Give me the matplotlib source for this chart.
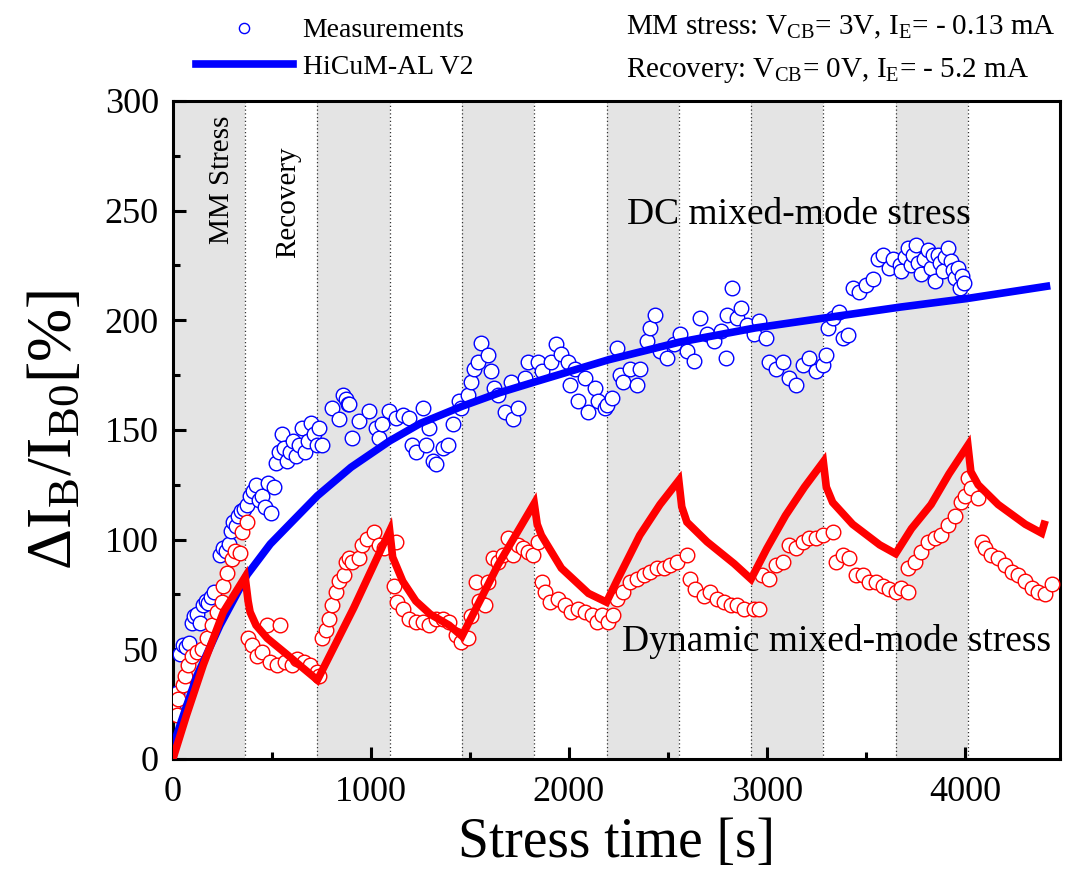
import matplotlib
matplotlib.use('Agg')
import matplotlib.pyplot as plt
from matplotlib.ticker import MultipleLocator

plt.rcParams['font.family'] = ['Liberation Serif', 'DejaVu Serif']
plt.rcParams['mathtext.fontset'] = 'custom'
plt.rcParams['mathtext.rm'] = 'Liberation Serif'
plt.rcParams['mathtext.it'] = 'Liberation Serif:italic'

# stress / recovery cycles [s]
stress_start = [0, 730, 1460, 2190, 2920, 3650]
stress_end = [365, 1095, 1825, 2555, 3285, 4015]
phase_edges = [365, 730, 1095, 1460, 1825, 2190, 2555, 2920, 3285, 3650, 4015]

# DC mixed-mode stress, measured
dc_t = [8, 20, 35, 50, 65, 80, 95, 105, 120, 135, 150, 165, 180, 195, 210,
        240, 255, 270, 285, 295, 305, 318, 330, 345, 360,
        375, 390, 405, 420, 435, 450, 465, 480, 495, 510, 520, 535, 550, 562,
        578, 592, 607, 622, 637, 652, 667, 682, 700, 715, 729,
        737, 754, 805, 839, 857, 872, 882, 889, 906, 940, 991, 1024, 1041,
        1058, 1092, 1126, 1160, 1193, 1210, 1227, 1261, 1278, 1295, 1312,
        1328, 1362, 1388, 1413, 1447,
        1455, 1489, 1506, 1523, 1540, 1557, 1591, 1608, 1624, 1641, 1675,
        1709, 1717, 1743, 1777, 1794, 1845, 1862, 1912, 1937, 1962, 1996,
        2005, 2030, 2047, 2081, 2098, 2132, 2149, 2183,
        2191, 2216, 2242, 2258, 2275, 2309, 2343, 2360, 2394, 2411, 2436,
        2461, 2495, 2529, 2563, 2597, 2630, 2664, 2698, 2732, 2766, 2791,
        2800, 2825, 2850, 2867, 2901, 2935,
        2960, 2994, 3011, 3045, 3079, 3112, 3146, 3180, 3214, 3248, 3281,
        3298, 3307, 3332, 3366, 3383, 3408, 3434, 3467, 3501, 3535, 3560,
        3586, 3619, 3636, 3670,
        3678, 3695, 3712, 3729, 3740, 3754, 3765, 3779, 3795, 3813, 3830,
        3840, 3847, 3864, 3875, 3889, 3900, 3914, 3931, 3940, 3948, 3965,
        3974, 3985, 3995]
dc_y = [22, 30, 48, 52, 51, 53, 62, 65, 66, 62, 70, 72, 71, 74, 76,
        93, 96, 95, 98, 104, 108, 106, 111, 113, 114,
        116, 120, 122, 125, 118, 120, 115, 126, 112, 124, 135, 140, 148, 142,
        136, 140, 145, 138, 143, 151, 140, 145, 153, 148, 143,
        151, 143, 160, 155, 166, 164, 162, 162, 146.5, 154, 158.5, 151, 146.5,
        152.5, 158.5, 155.5, 157, 155.5, 143, 140, 160, 143, 151, 136,
        134.5, 142, 143, 152.5, 163,
        160, 166, 172, 178, 181, 189.6, 184, 176.7, 169, 166, 158.4,
        172, 155, 160, 173.6, 181, 181, 176.7, 181, 189, 184.5, 181,
        170.6, 178, 163, 173.6, 158.4, 169, 163, 160,
        161.5, 164.5, 187.4, 175, 172, 178, 170.6, 178, 190.4, 196.5, 202.6,
        186, 183, 189, 193.6, 186, 181.3, 201, 193.6, 190.4, 195, 183,
        202.6, 214.8, 201, 205.6, 198, 193.6,
        199.5, 192, 181, 178, 181, 173.6, 170.6, 179.7, 182.7, 176.7, 179.7,
        184, 196.5, 200.9, 204, 192, 193.5, 214.8, 213, 216, 219, 228,
        229.7, 223.7, 228, 225,
        222.4, 229, 233, 225.4, 230, 234.5, 226, 221, 228, 232, 224,
        230, 218, 230, 226, 222.4, 229, 233, 227, 223, 219.5, 224,
        214.8, 220, 217]

# dynamic mixed-mode stress, measured
dyn_t = [19, 27, 52, 61, 78, 95, 120, 145, 171, 196, 222, 247, 255, 272,
         298, 315, 340, 348, 374,
         382, 399, 424, 449, 475, 492, 526, 543, 568, 602, 627, 661, 695, 729,
         737, 754, 771, 788, 805, 822, 839, 864, 872, 889, 906, 940, 957,
         982, 1016, 1041, 1066, 1126,
         1117, 1134, 1160, 1193, 1227, 1261, 1295, 1328, 1362, 1396, 1430,
         1455,
         1489, 1506, 1531, 1548, 1574, 1591, 1616, 1641, 1667, 1692, 1717,
         1743, 1768, 1794, 1819, 1845,
         1862, 1878, 1904, 1946, 1979, 2013, 2047, 2081, 2115, 2140, 2166,
         2200,
         2225, 2242, 2275, 2309, 2343, 2377, 2411, 2444, 2478, 2512, 2546,
         2597,
         2614, 2639, 2681, 2715, 2749, 2783, 2817, 2850, 2884, 2935,
         2960, 2977, 3011, 3045, 3079, 3112, 3146, 3180, 3214, 3248, 3281,
         3332,
         3349, 3383, 3417, 3450, 3484, 3518, 3552, 3586, 3619, 3653,
         3678, 3712,
         3712, 3746, 3779, 3813, 3847, 3880, 3914, 3948, 3982, 3999, 4016,
         4033, 4067,
         4084, 4100, 4134, 4168, 4202, 4236, 4270, 4303, 4337, 4371, 4405,
         4438]
dyn_y = [19.9, 27.5, 33.6, 38, 42.7, 47, 48.6, 50, 55, 61, 67, 71.7, 79, 85,
         91, 95, 94, 103.6, 108,
         55, 52, 47, 48.6, 61, 44, 42.7, 61, 44, 42.7, 45.6, 44, 42.7, 39.7,
         38, 55, 59, 64, 70, 76, 81, 84, 90, 91.5, 90, 91.5, 97.5,
         100.5, 103.6, 97.5, 96, 99,
         79, 71.7, 68.6, 64, 62.5, 62.5, 61, 64, 64, 62.5, 56.4,
         53.4,
         55, 65, 80.8, 72, 70, 80.8, 91.5, 90, 93, 100.6, 93,
         97.5, 96, 94.5, 93, 99,
         80.8, 76.3, 71.7, 73, 70, 67, 68.6, 67, 65.6, 62.5, 65.6,
         62.5,
         65.6, 73, 76, 80.8, 82, 83.8, 85.4, 87, 87, 88.4, 90,
         93,
         82, 77.6, 74.5, 76, 73, 71.7, 70, 70, 68.6, 68.6,
         68.5, 83.8, 82, 88.4, 90, 97.5, 96, 99, 100.6, 100.6, 102,
         103.6,
         90, 93, 91.5, 83.8, 83.8, 80.8, 80.8, 79, 77.6, 76,
         77.8, 76.3,
         86.9, 90, 94.5, 99, 100.6, 102, 106.6, 111, 117, 120, 128,
         123.5, 119,
         99, 96, 93, 91.5, 88.4, 85.4, 84, 81, 78, 76.3, 75,
         79.6]

# HiCuM-AL V2 model
model_dc_t = [0, 20, 71, 122, 238, 375, 492, 600, 730, 900, 1095, 1250,
              1466, 1650, 1831, 2200, 2556, 2940, 3286, 3672, 4016, 4412]
model_dc_y = [0, 11, 24.6, 38, 61, 84, 98, 108, 120, 133, 145, 153,
              161, 167, 172, 182, 190, 196.5, 201, 206, 210, 215.5]
model_dyn_t = [0, 69, 154, 255, 365, 380, 390, 420, 477, 578, 650, 730,
               914, 1095, 1110, 1161, 1227, 1300, 1395, 1460,
               1643, 1825, 1840, 1861, 1962, 2099, 2190,
               2241, 2358, 2460, 2555, 2570, 2596, 2698, 2835, 2920,
               3000, 3094, 3190, 3285, 3300, 3332, 3433, 3570, 3650,
               3730, 3829, 3920, 4015, 4030, 4067, 4168, 4305, 4387, 4400]
model_dyn_y = [0, 20, 43, 67, 83, 72, 67, 61, 55, 47.5, 42, 36,
               69, 104, 92, 81, 72, 66, 61, 56,
               88.6, 116.5, 107, 102, 87, 75.5, 71.5,
               81, 102, 116, 127, 115, 108, 99, 89, 82,
               96, 111, 124, 135.5, 124, 117, 107, 97.6, 93.6,
               105, 116, 130, 143, 131, 125, 116, 107, 103, 107]

fig = plt.figure(figsize=(10.67, 8.81), dpi=100)
ax = fig.add_axes([0.162, 0.1385, 0.8314, 0.7469])

for s, e in zip(stress_start, stress_end):
    ax.axvspan(s, e, color='#e4e4e4', lw=0, zorder=0)
for x in phase_edges:
    ax.axvline(x, color='#333333', ls=(0, (1, 2)), lw=0.9, zorder=1)

ax.plot(dc_t, dc_y, 'o', ms=10.5, mfc='white', mec='blue', mew=1.0,
        zorder=3, label='Measurements')
ax.plot(dyn_t, dyn_y, 'o', ms=10.5, mfc='white', mec='red', mew=1.0,
        zorder=3)
ax.plot(model_dc_t, model_dc_y, color='blue', lw=5.5, zorder=4,
        label='HiCuM-AL V2')
ax.plot(model_dyn_t, model_dyn_y, color='red', lw=5.5, zorder=4,
        solid_joinstyle='miter')

ax.set_xlim(0, 4480)
ax.set_ylim(0, 300)
ax.xaxis.set_major_locator(MultipleLocator(1000))
ax.xaxis.set_minor_locator(MultipleLocator(500))
ax.yaxis.set_major_locator(MultipleLocator(50))
ax.yaxis.set_minor_locator(MultipleLocator(25))
ax.tick_params(which='both', direction='in', width=2.2, labelsize=26)
ax.tick_params(which='major', length=9)
ax.tick_params(which='minor', length=5)
ax.tick_params(axis='x', pad=12)
ax.tick_params(axis='y', pad=10)
for sp in ax.spines.values():
    sp.set_linewidth(2.2)

ax.set_xlabel('Stress time [s]', fontsize=40, labelpad=6)
ax.set_ylabel(r'$\Delta$I$_{\mathrm{B}}$/I$_{\mathrm{B0}}$[%]', fontsize=46,
              labelpad=14)

ax.text(2292, 248, 'DC mixed-mode stress', fontsize=27, va='center')
ax.text(2267, 53.4, 'Dynamic mixed-mode stress', fontsize=27, va='center')
ax.text(248, 264, 'MM Stress', fontsize=21, rotation=90, ha='center',
        va='center')
ax.text(583, 254, 'Recovery', fontsize=21, rotation=90, ha='center',
        va='center')

fig.legend(loc='upper left', bbox_to_anchor=(0.16, 1.008), frameon=False,
           fontsize=20, handlelength=3.5, handletextpad=0.35,
           labelspacing=0.4, markerscale=0.7)

fig.text(0.587, 0.969, r'MM stress: V$_{\mathrm{CB}}$= 3V, I$_{\mathrm{E}}$= - 0.13 mA',
         fontsize=21, va='center')
fig.text(0.587, 0.92, r'Recovery: V$_{\mathrm{CB}}$= 0V, I$_{\mathrm{E}}$= - 5.2 mA',
         fontsize=21, va='center')

fig.savefig('out.png', dpi=100)
